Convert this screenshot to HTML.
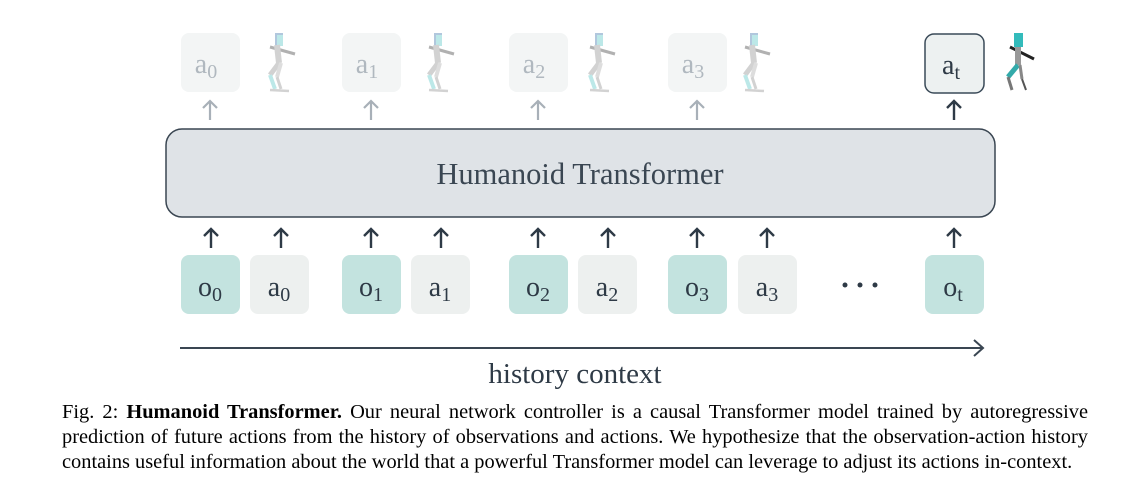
<!DOCTYPE html>
<html><head><meta charset="utf-8"><style>
html,body{margin:0;padding:0;background:#fff;width:1143px;height:481px;overflow:hidden;position:relative}
svg{position:absolute;left:0;top:0}
.cap{position:absolute;left:62px;width:1026px;font-family:"Liberation Serif",serif;font-size:20.4px;color:#000;white-space:nowrap;line-height:25px}
.j{text-align:justify;text-align-last:justify;white-space:normal;word-spacing:-2.5px}
</style></head><body>
<svg width="1143" height="481" viewBox="0 0 1143 481" font-family="Liberation Serif, serif">
<defs>
<g id="rob">
 <rect x="10" y="0" width="8" height="13" fill="#8ac" />
 <rect x="12" y="2" width="6" height="11" fill="#9dd"/>
 <line x1="5" y1="14" x2="30" y2="21" stroke="#888" stroke-width="3"/>
 <line x1="12" y1="12" x2="14" y2="30" stroke="#bbb" stroke-width="6"/>
 <line x1="14" y1="30" x2="5" y2="42" stroke="#bbb" stroke-width="5"/>
 <line x1="5" y1="42" x2="10" y2="56" stroke="#9dd" stroke-width="4"/>
 <line x1="16" y1="30" x2="12" y2="44" stroke="#ccc" stroke-width="4"/>
 <line x1="12" y1="44" x2="16" y2="56" stroke="#bbb" stroke-width="3"/>
 <line x1="5" y1="57" x2="24" y2="58" stroke="#bbb" stroke-width="2.5"/>
</g>
</defs>
<g fill="#f3f5f5">
<rect x="181" y="33" width="59" height="59" rx="8"/>
<rect x="342" y="33" width="59" height="59" rx="8"/>
<rect x="509" y="33" width="59" height="59" rx="8"/>
<rect x="668" y="33" width="59" height="59" rx="8"/>
</g>
<rect x="925" y="34" width="59" height="59" rx="9" fill="#edf1f1" stroke="#3a4a58" stroke-width="1.5"/>
<g font-size="28" fill="#b0b8bf" text-anchor="middle">
<text x="206" y="73">a<tspan font-size="20" dy="5">0</tspan></text>
<text x="367" y="73">a<tspan font-size="20" dy="5">1</tspan></text>
<text x="534" y="73">a<tspan font-size="20" dy="5">2</tspan></text>
<text x="693" y="73">a<tspan font-size="20" dy="5">3</tspan></text>
</g>
<text x="951" y="74" font-size="28" fill="#2e3a46" text-anchor="middle">a<tspan font-size="20" dy="5">t</tspan></text>
<g opacity="0.65">
<use href="#rob" x="265" y="33"/><use href="#rob" x="424" y="33"/>
<use href="#rob" x="585" y="33"/><use href="#rob" x="740" y="33"/>
</g>
<g transform="translate(1000,33)">
 <rect x="14" y="0" width="9" height="14" fill="#3bb"/>
 <line x1="10" y1="14" x2="34" y2="26" stroke="#222" stroke-width="3"/>
 <line x1="18" y1="14" x2="18" y2="32" stroke="#999" stroke-width="6"/>
 <line x1="18" y1="32" x2="8" y2="44" stroke="#3aa" stroke-width="5"/>
 <line x1="8" y1="44" x2="12" y2="57" stroke="#777" stroke-width="3"/>
 <line x1="20" y1="32" x2="22" y2="46" stroke="#888" stroke-width="3"/>
 <line x1="22" y1="46" x2="26" y2="57" stroke="#555" stroke-width="2"/>
</g>
<g stroke="#a8b0b8" stroke-width="2.2" fill="none">
<path d="M210 120V101M203 108l7-7 7 7"/>
<path d="M371 120V101M364 108l7-7 7 7"/>
<path d="M538 120V101M531 108l7-7 7 7"/>
<path d="M697 120V101M690 108l7-7 7 7"/>
</g>
<path d="M954 120V101M947 108l7-7 7 7" stroke="#2e3a46" stroke-width="2.4" fill="none"/>
<rect x="166" y="129" width="829" height="88" rx="16" fill="#dfe3e7" stroke="#3a4652" stroke-width="1.5"/>
<text x="580" y="184" font-size="30.5" fill="#3a4652" text-anchor="middle">Humanoid Transformer</text>
<g stroke="#2e3a46" stroke-width="2.4" fill="none">
<path d="M211 248V229M204 236l7-7 7 7"/>
<path d="M281 248V229M274 236l7-7 7 7"/>
<path d="M371 248V229M364 236l7-7 7 7"/>
<path d="M441 248V229M434 236l7-7 7 7"/>
<path d="M538 248V229M531 236l7-7 7 7"/>
<path d="M608 248V229M601 236l7-7 7 7"/>
<path d="M697 248V229M690 236l7-7 7 7"/>
<path d="M767 248V229M760 236l7-7 7 7"/>
<path d="M954 248V229M947 236l7-7 7 7"/>
</g>
<g fill="#c3e3df">
<rect x="181" y="255" width="59" height="59" rx="8"/>
<rect x="342" y="255" width="59" height="59" rx="8"/>
<rect x="509" y="255" width="59" height="59" rx="8"/>
<rect x="668" y="255" width="59" height="59" rx="8"/>
<rect x="925" y="255" width="59" height="59" rx="8"/>
</g>
<g fill="#edf0ef">
<rect x="250" y="255" width="59" height="59" rx="8"/>
<rect x="411" y="255" width="59" height="59" rx="8"/>
<rect x="578" y="255" width="59" height="59" rx="8"/>
<rect x="738" y="255" width="59" height="59" rx="8"/>
</g>
<g font-size="28" fill="#2e3a46" text-anchor="middle">
<text x="210" y="296">o<tspan font-size="20" dy="5">0</tspan></text>
<text x="279" y="296">a<tspan font-size="20" dy="5">0</tspan></text>
<text x="371" y="296">o<tspan font-size="20" dy="5">1</tspan></text>
<text x="440" y="296">a<tspan font-size="20" dy="5">1</tspan></text>
<text x="538" y="296">o<tspan font-size="20" dy="5">2</tspan></text>
<text x="607" y="296">a<tspan font-size="20" dy="5">2</tspan></text>
<text x="697" y="296">o<tspan font-size="20" dy="5">3</tspan></text>
<text x="767" y="296">a<tspan font-size="20" dy="5">3</tspan></text>
<text x="953" y="296">o<tspan font-size="20" dy="5">t</tspan></text>
</g>
<g fill="#2e3a46"><circle cx="845" cy="285" r="2.5"/><circle cx="860" cy="285" r="2.5"/><circle cx="875" cy="285" r="2.5"/></g>
<path d="M180 348H983M974 340l9 8-9 8" stroke="#3a4652" stroke-width="2" fill="none"/>
<text x="575" y="383" font-size="29" fill="#2e3a46" text-anchor="middle">history context</text>
</svg>
<div class="cap j" style="top:400px">Fig. 2: <b>Humanoid Transformer.</b> Our neural network controller is a causal Transformer model trained by autoregressive</div>
<div class="cap j" style="top:425px">prediction of future actions from the history of observations and actions. We hypothesize that the observation-action history</div>
<div class="cap" style="top:450px">contains useful information about the world that a powerful Transformer model can leverage to adjust its actions in-context.</div>
</body></html>
